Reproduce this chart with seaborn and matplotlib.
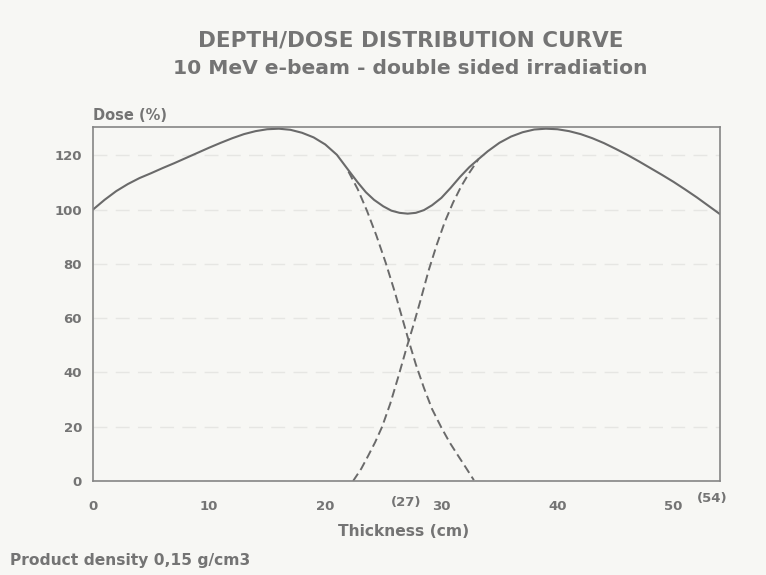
import matplotlib
matplotlib.use("Agg")
import matplotlib.pyplot as plt
import seaborn as sns
import pandas as pd

# ---- data ----
total_x = [0, 1, 2, 3, 4, 5, 6, 7, 8, 9, 10, 11, 12, 13, 14, 15, 16, 17, 18,
           19, 20, 21, 22, 22.8, 23.5, 24.2, 25, 25.7, 26.4, 27.1, 27.8, 28.5,
           29.2, 30, 30.8, 31.6, 32.4, 33.2, 34, 35, 36, 37, 38, 39, 40, 41,
           42, 43, 44, 45, 46, 47, 48, 49, 50, 51, 52, 53, 54]
total_y = [100, 103.6, 106.8, 109.4, 111.6, 113.4, 115.3, 117.1, 119.0, 120.9,
           122.8, 124.6, 126.3, 127.8, 128.9, 129.6, 129.8, 129.4, 128.3, 126.6,
           124.0, 120.2, 114.5, 110.0, 106.4, 103.6, 101.2, 99.6, 98.8, 98.5,
           98.8, 99.8, 101.6, 104.3, 108.0, 112.0, 115.6, 118.6, 121.5, 124.6,
           126.9, 128.5, 129.5, 129.8, 129.6, 128.9, 127.8, 126.3, 124.5, 122.4,
           120.2, 117.8, 115.3, 112.8, 110.2, 107.4, 104.5, 101.4, 98.3]

left_beam_x = [22.0, 22.8, 23.6, 24.4, 25.2, 26.0, 26.6, 27.2, 27.8, 28.5, 29.2,
               30.0, 30.7, 31.4, 32.1, 32.8]
left_beam_y = [114.0, 107.5, 99.5, 90.5, 80.5, 69.5, 60.5, 51.5, 43, 34.3, 26.5,
               19.7, 14.3, 9.6, 5, 0.3]

right_beam_x = [22.4, 23.1, 23.7, 24.3, 24.9, 25.6, 26.3, 27.0, 27.6, 28.2, 28.9,
                29.6, 30.3, 31.0, 31.7, 32.4, 33.2]
right_beam_y = [0, 4.5, 9.3, 14.3, 20.0, 28.5, 38.5, 49.0, 57.5, 66.5, 77.5,
                87.0, 95.5, 102.5, 108.5, 113.5, 118.6]

x_ticks = [0, 10, 20, 30, 40, 50]
y_ticks = [0, 20, 40, 60, 80, 100, 120]
extra_x_labels = ["(27)", "(54)"]
extra_x_pos = [27, 53.3]

title_1 = "DEPTH/DOSE DISTRIBUTION CURVE"
title_2 = "10 MeV e-beam - double sided irradiation"
y_label = "Dose (%)"
x_label = "Thickness (cm)"
footnote = "Product density 0,15 g/cm3"

# ---- styling ----
sns.set_theme(style="white")
plt.rcParams["font.family"] = ["DejaVu Sans"]
plt.rcParams["font.weight"] = "bold"

paper = "#f7f7f4"
ink = "#6a6a6a"
text_c = "#747474"

fig = plt.figure(figsize=(7.66, 5.75), dpi=100, facecolor=paper)
ax = fig.add_axes([0.1214, 0.1635, 0.8186, 0.6155], facecolor=paper)

df_total = pd.DataFrame({"x": total_x, "y": total_y})
df_left = pd.DataFrame({"x": left_beam_x, "y": left_beam_y})
df_right = pd.DataFrame({"x": right_beam_x, "y": right_beam_y})

sns.lineplot(data=df_total, x="x", y="y", ax=ax, color=ink, lw=1.5,
             sort=False, estimator=None)
for d in (df_left, df_right):
    sns.lineplot(data=d, x="x", y="y", ax=ax, color=ink, lw=1.4,
                 sort=False, estimator=None)
    ax.lines[-1].set_dashes((4.5, 2.3))

ax.set_xlim(0, 54)
ax.set_ylim(0, 130.4)
ax.set_xticks(x_ticks)
ax.set_yticks(y_ticks)
ax.set_xticklabels([str(t) for t in x_ticks], fontsize=9.5, color=text_c,
                   fontweight="bold")
ax.set_yticklabels([str(t) for t in y_ticks], fontsize=9.5, color=text_c,
                   fontweight="bold")
ax.tick_params(axis="y", direction="out", length=3, width=1, color=ink, pad=5)
ax.tick_params(axis="x", direction="in", length=4, width=1, color=ink, pad=14)
for s in ax.spines.values():
    s.set_color("#858585")
    s.set_linewidth(1.2)

ax.yaxis.grid(True, color="#e6e6e3", lw=1.0, linestyle=(0, (10, 6)))
ax.set_axisbelow(True)
ax.set_xlabel("")
ax.set_ylabel("")

ax.text(extra_x_pos[0], -7.8, extra_x_labels[0], ha="center", va="center",
        fontsize=9.5, color=text_c, fontweight="bold")
ax.text(extra_x_pos[1], -6.3, extra_x_labels[1], ha="center", va="center",
        fontsize=9.5, color=text_c, fontweight="bold")

ax.text(0, 131.8, y_label, ha="left", va="bottom", fontsize=10.5,
        color=text_c, fontweight="bold")
fig.text(0.527, 1 - 531 / 575, x_label, ha="center", va="center",
         fontsize=11.2, color=text_c, fontweight="bold")
fig.text(10 / 766, 1 - 560 / 575, footnote, ha="left", va="center",
         fontsize=11.2, color=text_c, fontweight="bold")
fig.text(0.536, 1 - 40 / 575, title_1, ha="center", va="center",
         fontsize=15.5, color=text_c, fontweight="bold")
fig.text(0.536, 1 - 68 / 575, title_2, ha="center", va="center",
         fontsize=14.6, color=text_c, fontweight="bold")

fig.savefig("out.png", dpi=100, facecolor=paper)
